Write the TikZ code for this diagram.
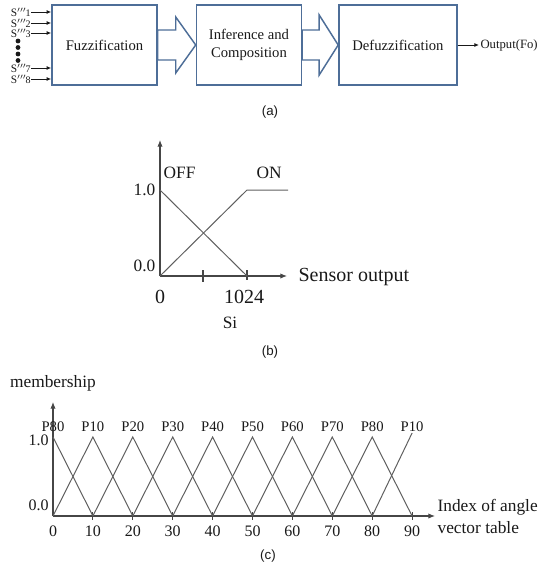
\documentclass[tikz,border=0pt]{standalone}
\usepackage{fontspec}
\setmainfont{Liberation Serif}
\setsansfont{Liberation Sans}
\usepackage{tikz}
\usetikzlibrary{arrows.meta,positioning,calc}
\definecolor{fzblue}{RGB}{78,110,152}
\definecolor{fzline}{RGB}{95,95,95}
\definecolor{fzaxis}{RGB}{70,70,70}
\definecolor{fztext}{RGB}{25,25,25}
\tikzset{
  blk/.style={draw=fzblue,line width=1.1pt,fill=white,
              minimum width=78.75pt,minimum height=60pt,inner sep=0pt,
              align=center,text=fztext,font=\fontsize{11}{13.5}\selectfont},
  hollow/.style={draw=fzblue,line width=1.1pt,fill=white,line join=miter},
  arr/.style={-{Latex[length=3.5pt,width=3pt]},line width=0.7pt,color=fztext},
  inlbl/.style={font=\fontsize{8.5}{8.5}\selectfont,text=fztext,inner sep=0pt},
  outlbl/.style={font=\fontsize{9.5}{11}\selectfont,text=fztext,inner sep=1pt},
  caplbl/.style={font=\sffamily\fontsize{10}{12}\selectfont,text=fztext},
  axis/.style={line width=0.8pt,color=fzaxis},
  mf/.style={line width=0.75pt,color=fzline},
  lbl/.style={font=\fontsize{13}{15}\selectfont,text=fztext,inner sep=1pt},
  biglbl/.style={font=\fontsize{15}{17}\selectfont,text=fztext,inner sep=1pt},
  plbl/.style={font=\fontsize{11}{13}\selectfont,text=fztext,inner sep=0pt},
  nlbl/.style={font=\fontsize{12}{14}\selectfont,text=fztext,inner sep=0pt},
}
\begin{document}
\begin{tikzpicture}[x=0.75pt,y=-0.75pt,>={Latex[length=5pt,width=4pt]}]
  \useasboundingbox (0,0) rectangle (538,568);

  \node[blk](fuz) at (104.5,45){Fuzzification};
  \node[blk,right=28.5pt of fuz](inf){Inference and\\Composition};
  \node[blk,minimum width=88.5pt,right=27pt of inf](def){Defuzzification};
  \node[outlbl,right=16pt of def](out){Output(Fo)};
  \draw[hollow] ($(fuz.east)+(0,-15)$) -- ++(18,0) -- ++(0,-13) -- (inf.west)
    -- ($(inf.west)+(-20,28)$) -- ++(0,-13) -- ($(fuz.east)+(0,15)$) -- cycle;
  \draw[hollow] ($(inf.east)+(0,-15)$) -- ++(17,0) -- ++(0,-15) -- (def.west)
    -- ($(def.west)+(-19,30)$) -- ++(0,-15) -- ($(inf.east)+(0,15)$) -- cycle;
  \draw[arr](def.east) -- (out.west);
  \foreach \i/\yy in {1/12,2/23,3/33,7/68,8/79}{
    \node[inlbl,anchor=east](s\i) at (31,\yy){S$^{\prime\prime\prime}$\kern-0.6pt{\fontsize{7.5}{7.5}\selectfont\i}};
    \draw[arr](s\i.east) -- (s\i.east -| fuz.west);
  }
  \foreach \yy in {41,47.5,54,60.5}
    \fill[fztext] (18,\yy) circle[radius=1.8pt];
  \node[caplbl](capa) at (270,112){(a)};

  \coordinate (bO) at (160,276);
  \coordinate (bY) at (160,140);
  \coordinate (bX) at (287,276);
  \draw[axis,->] (bO) -- (bY);
  \draw[axis,->] (bO) -- (bX);
  \draw[axis] (203,270) -- (203,282);
  \draw[axis] (247,270) -- (247,280);
  \draw[mf] (160,190) -- (247,276);
  \draw[mf] (bO) -- (247,190) -- (288,190);
  \node[lbl,anchor=west](off) at (162,173){OFF};
  \node[lbl,anchor=west](on) at (255,173){ON};
  \node[lbl,anchor=east](b1) at (157,190){1.0};
  \node[lbl,anchor=east](b0) at (157,266){0.0};
  \node[biglbl](bzero) at (160,297){0};
  \node[biglbl](bmax) at (244,297){1024};
  \node[lbl](si) at (230,323){Si};
  \node[biglbl,anchor=west](sens) at (297,277){Sensor output};
  \node[caplbl](capb) at (270,352){(b)};

  \coordinate (cO) at (53,516);
  \coordinate (cY) at (53,402);
  \coordinate (cX) at (435,516);
  \draw[axis,->] (cO) -- (cY);
  \draw[axis,->] (cO) -- (cX);
  \foreach \i in {1,...,9}
    \draw[axis] ({53+39.9*\i},512) -- ++(0,8);
  \draw[mf] (53,437) -- (92.9,516);
  \foreach \i in {1,...,8}
    \draw[mf] ({53+39.9*(\i-1)},516) -- ({53+39.9*\i},437) -- ({53+39.9*(\i+1)},516);
  \draw[mf] (372.2,516) -- (412.1,433);
  \foreach \i/\p in {0/P80,1/P10,2/P20,3/P30,4/P40,5/P50,6/P60,7/P70,8/P80,9/P10}
    \node[plbl](p\i) at ({53+39.9*\i},427){\p};
  \foreach \i/\v in {0/0,1/10,2/20,3/30,4/40,5/50,6/60,7/70,8/80,9/90}
    \node[nlbl](n\i) at ({53+39.9*\i},531){\v};
  \node[nlbl,anchor=east](c1) at (49,440){1.0};
  \node[nlbl,anchor=east](c0) at (49,505){0.0};
  \node[lbl](memb) at (53,383){membership};
  \node[lbl,anchor=west,align=left,font=\fontsize{13}{16.5}\selectfont](idx) at (436,516){Index of angle\\vector table};
  \node[caplbl](capc) at (268,556){(c)};
\end{tikzpicture}
\end{document}
